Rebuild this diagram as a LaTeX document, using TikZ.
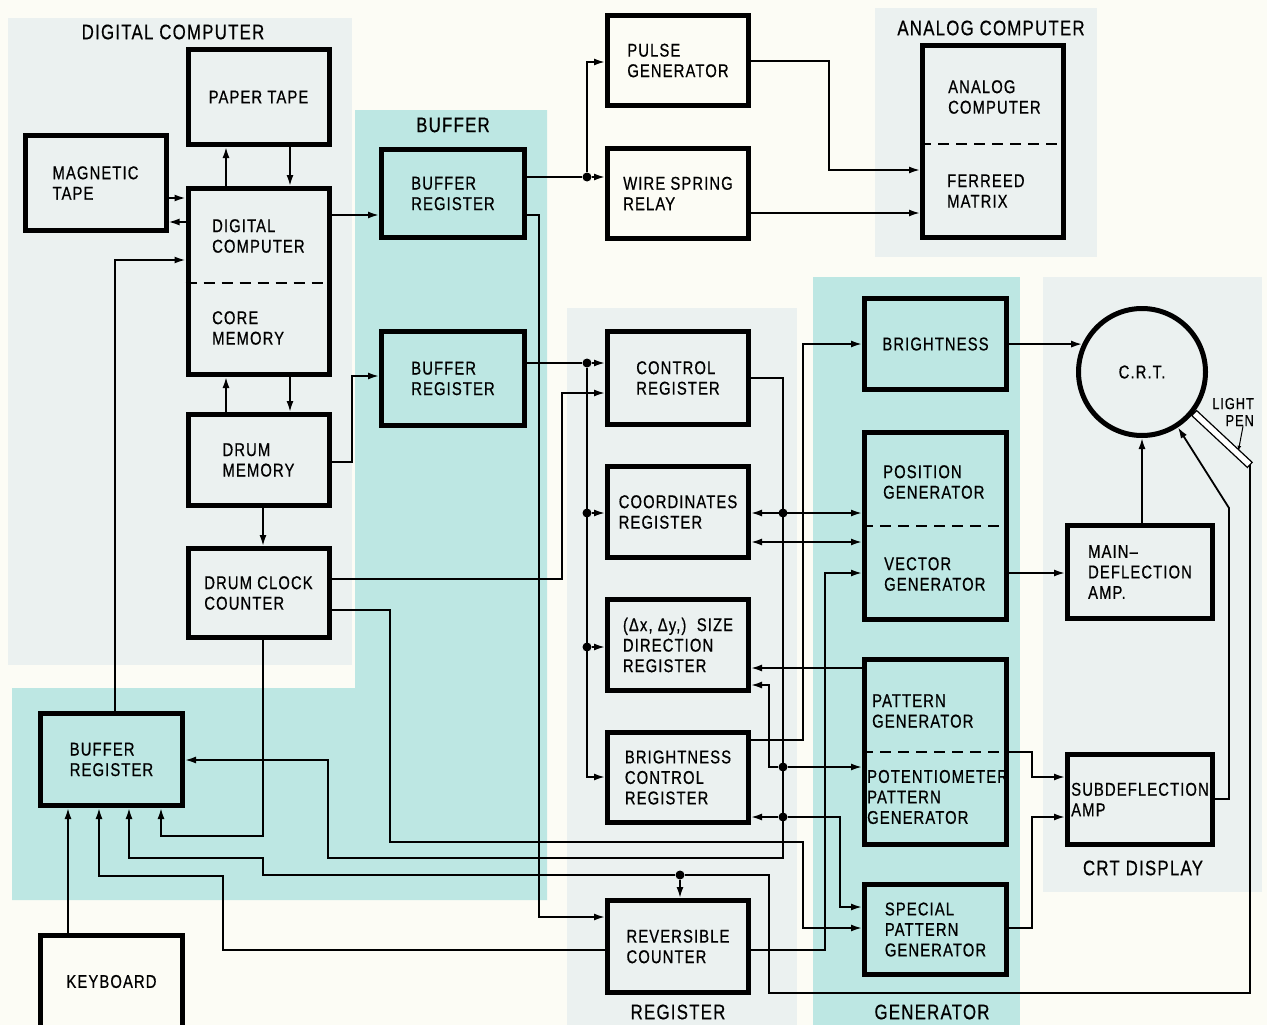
\documentclass[tikz,border=0pt]{standalone}
\usepackage{fontspec}
\setmainfont{Liberation Sans}[FakeStretch=0.8,LetterSpace=6,FakeBold=0.6]
\usetikzlibrary{arrows.meta,calc}

\newcommand*{\blkw}{141pt}
\newcommand*{\blkh}{90pt}
\newcommand*{\boxfont}{\fontsize{18.5pt}{20.5pt}\selectfont}
\newcommand*{\lblfont}{\fontsize{21pt}{23pt}\selectfont}
\definecolor{cyanbg}{HTML}{BDE7E3}
\definecolor{greybg}{HTML}{EBF1F0}
\definecolor{paper}{HTML}{FCFCF5}

\begin{document}
\begin{tikzpicture}
[
	x=1pt, y=-1pt,
	blk/.style={draw,line width=5pt,minimum width=\blkw,minimum height=\blkh,inner sep=0pt,align=left,font=\boxfont},
	txt/.style={inner sep=0pt,align=left,anchor=west,font=\boxfont},
	lbl/.style={inner sep=0pt,font=\lblfont},
	wire/.style={line width=1.8pt},
	con/.style={wire,-{Latex[length=11pt,width=7pt]}},
	dcon/.style={wire,{Latex[length=11pt,width=7pt]}-{Latex[length=11pt,width=7pt]}},
	split/.style={line width=1.8pt,dash pattern=on 11pt off 7pt},
	junc/.style={fill,circle,inner sep=0pt,minimum size=9pt}
]

	% regions
	\useasboundingbox[fill=paper] (0,0) rectangle (1267,1025);
	\fill[greybg] (8,18) rectangle (352,665);
	\fill[cyanbg] (355,110) -- (547,110) -- (547,900) -- (12,900) -- (12,688) -- (355,688) -- cycle;
	\fill[greybg] (875,8) rectangle (1097,257);
	\fill[greybg] (567,308) rectangle (797,1025);
	\fill[cyanbg] (813,277) rectangle (1020,1025);
	\fill[greybg] (1043,277) rectangle (1262,892);

	% region labels
	\node[lbl] (tdig) at (173,32) {DIGITAL COMPUTER};
	\node[lbl] (tbuf) at (453,125) {BUFFER};
	\node[lbl] (tana) at (991,28) {ANALOG COMPUTER};
	\node[lbl] (treg) at (678,1012) {REGISTER};
	\node[lbl] (tgen) at (932,1012) {GENERATOR};
	\node[lbl] (tcrt) at (1143,868) {CRT DISPLAY};

	% digital computer
	\node[blk,fill=greybg,minimum height=95pt] (pt) at (258.5,97) {PAPER TAPE};
	\node[blk,fill=greybg,minimum height=95pt] (mt) at (95.5,183) {MAGNETIC\\TAPE};
	\node[blk,fill=greybg,minimum height=186pt] (dc) at (258.5,281.5) {};
	\draw[split] (dc.west |- 0,283) -- (dc.east |- 0,283);
	\node[txt] (dct) at (212,236) {DIGITAL\\COMPUTER};
	\node[txt] (cmt) at (212,328) {CORE\\MEMORY};
	\node[blk,fill=greybg,minimum height=91pt] (dm) at (258.5,460) {DRUM\\MEMORY};
	\node[blk,fill=greybg,minimum height=89pt] (dcc) at (258.5,593) {DRUM CLOCK\\COUNTER};

	% buffers
	\node[blk,fill=cyanbg,minimum width=143pt,minimum height=88pt] (bra) at (453,193.5) {BUFFER\\REGISTER};
	\node[blk,fill=cyanbg,minimum width=143pt,minimum height=94pt] (brb) at (453,378.5) {BUFFER\\REGISTER};
	\node[blk,fill=cyanbg,minimum width=142pt,minimum height=92pt] (brc) at (111.5,759.5) {BUFFER\\REGISTER};
	\node[blk,fill=paper,minimum width=142pt,minimum height=93pt] (kb) at (111.5,981.5) {KEYBOARD};

	% analog side
	\node[blk,fill=paper] (pg) at (678,60.5) {PULSE\\GENERATOR};
	\node[blk,fill=paper] (wsr) at (678,193.5) {WIRE SPRING\\RELAY};
	\node[blk,fill=greybg,minimum height=192pt] (ac) at (993,141.5) {};
	\draw[split] (ac.west |- 0,144) -- (ac.east |- 0,144);
	\node[txt] (act) at (948,97) {ANALOG\\COMPUTER};
	\node[txt] (fmt) at (947,191) {FERREED\\MATRIX};

	% registers
	\node[blk,fill=greybg,minimum height=93pt] (cr) at (678,378) {CONTROL\\REGISTER};
	\node[blk,fill=greybg,minimum height=91pt] (coord) at (678,512) {COORDINATES\\REGISTER};
	\node[blk,fill=greybg,minimum height=91pt] (size) at (678,645) {(Δx, Δy,)~~SIZE\\DIRECTION\\REGISTER};
	\node[blk,fill=greybg] (bcr) at (678,777.5) {BRIGHTNESS\\CONTROL\\REGISTER};
	\node[blk,fill=greybg,minimum height=92pt] (rc) at (678,946.5) {REVERSIBLE\\COUNTER};

	% generators
	\node[blk,fill=cyanbg,minimum width=142pt,minimum height=91pt] (brt) at (935.5,344) {BRIGHTNESS};
	\node[blk,fill=cyanbg,minimum width=142pt,minimum height=187pt] (pvg) at (935.5,526) {};
	\draw[split] (pvg.west |- 0,526) -- (pvg.east |- 0,526);
	\node[txt] (pgt) at (883,482) {POSITION\\GENERATOR};
	\node[txt] (vgt) at (884,574) {VECTOR\\GENERATOR};
	\node[blk,fill=cyanbg,minimum width=142pt,minimum height=185pt] (ppg) at (935.5,752) {};
	\draw[split] (ppg.west |- 0,752) -- (ppg.east |- 0,752);
	\node[txt] (pat) at (872,711) {PATTERN\\GENERATOR};
	\node[txt] (pot) at (867,797) {POTENTIOMETER\\PATTERN\\GENERATOR};
	\node[blk,fill=cyanbg,minimum width=142pt] (spg) at (935.5,929.5) {SPECIAL\\PATTERN\\GENERATOR};

	% crt display
	\node[blk,fill=greybg,circle,minimum size=127pt] (crt) at (1142,372) {C.R.T.};
	\node[blk,fill=greybg,minimum width=145pt,minimum height=93pt] (mda) at (1140,572) {MAIN\textendash\\DEFLECTION\\AMP.};
	\node[blk,fill=greybg,minimum width=145pt] (sda) at (1140,799.5) {SUBDEFLECTION\\AMP};
	\node[draw,line width=1.2pt,fill=white,minimum width=76pt,minimum height=7pt,inner sep=0pt,rotate=-43] (pen) at (1222,439) {};
	\node[lbl,font=\fontsize{16pt}{17pt}\selectfont,align=right,anchor=east] (lp) at (1254,412) {LIGHT\\PEN};
	\draw[line width=1pt,-{Latex[length=5pt,width=4pt]},shorten >=3pt] (lp.south -| 1243,0) -- ($(pen.east)!0.22!(pen.west)$);

	% junctions
	\node[junc] (ja) at (587,177) {};
	\node[junc] (jb) at (587,363) {};
	\node[junc] (jc) at (587,513) {};
	\node[junc] (jd) at (587,647) {};
	\node[junc] (ka) at (783,513) {};
	\node[junc] (kb2) at (783,767) {};
	\node[junc] (kc) at (783,817) {};
	\node[junc] (kd) at (680,875) {};

	% digital computer links
	\draw[con] (dc.north -| 226,0) -- (pt.south -| 226,0);
	\draw[con] (pt.south -| 290,0) -- (dc.north -| 290,0);
	\draw[con] (mt.east |- 0,198) -- (dc.west |- 0,198);
	\draw[con] (dc.west |- 0,222) -- (mt.east |- 0,222);
	\draw[con] (dc.south -| 290,0) -- (dm.north -| 290,0);
	\draw[con] (dm.north -| 226,0) -- (dc.south -| 226,0);
	\draw[con] (dm.south -| 263,0) -- (dcc.north -| 263,0);
	\draw[con] (dc.east |- 0,215) -- (bra.west |- 0,215);
	\draw[con] (brc.north -| 115,0) |- (dc.west |- 0,260);
	\draw[con] (dm.east |- 0,462) -| (352,376) -- (brb.west |- 0,376);

	% buffer register to analog computer
	\draw[wire] (bra.east |- 0,177) -- (ja);
	\draw[con] (ja) -- (wsr.west |- 0,177);
	\draw[con] (ja) |- (pg.west |- 0,62);
	\draw[con] (pg.east |- 0,61) -| (829,170) -- (ac.west |- 0,170);
	\draw[con] (wsr.east |- 0,213) -- (ac.west |- 0,213);
	\draw[con] (bra.east |- 0,215) -| (539,917) -- (rc.west |- 0,917);

	% buffer register to registers
	\draw[wire] (brb.east |- 0,363) -- (jb);
	\draw[con] (jb) -- (cr.west |- 0,363);
	\draw[con] (jb) |- (bcr.west |- 0,777);
	\draw[con] (jc) -- (coord.west |- 0,513);
	\draw[con] (jd) -- (size.west |- 0,647);

	% drum clock counter
	\draw[con] (dcc.east |- 0,579) -| (562,393) -- (cr.west |- 0,393);
	\draw[con] (dcc.east |- 0,610) -| (390,842) -| (803,928) -- (spg.west |- 0,928);
	\draw[con] (dcc.south -| 263,0) |- (161,836) -- (brc.south -| 161,0);

	% control register bus
	\draw[con] (cr.east |- 0,378) -| (783,858) -| (328,760) -- (brc.east |- 0,760);
	\draw[dcon] (coord.east |- 0,513) -- (pvg.west |- 0,513);
	\draw[dcon] (coord.east |- 0,542) -- (pvg.west |- 0,542);
	\draw[con] (bcr.east |- 0,740) -| (803,344) -- (brt.west |- 0,344);
	\draw[con] (ppg.west |- 0,668) -- (size.east |- 0,668);
	\draw[con] (kb2) -- (ppg.west |- 0,767);
	\draw[con] (kb2) -| (769,685) -- (size.east |- 0,685);
	\draw[con] (kc) -- (bcr.east |- 0,817);
	\draw[con] (kc) -| (840,907) -- (spg.west |- 0,907);

	% reversible counter
	\draw[con] (rc.east |- 0,950) -| (825,573) -- (pvg.west |- 0,573);
	\draw[con] (rc.west |- 0,950) -| (223,876) -| (brc.south -| 99,0);
	\draw[con] (kb.north -| 68,0) -- (brc.south -| 68,0);

	% light pen return
	\draw[wire] (pen.east) -- (pen.east |- 0,993) -| (769,875) -- (kd);
	\draw[con] (kd) -- (rc.north -| kd);
	\draw[con] (kd) -| (263,858) -| (brc.south -| 129,0);

	% crt drive
	\draw[con] (brt.east |- 0,344) -- (crt.155);
	\draw[con] (pvg.east |- 0,573) -- (mda.west |- 0,573);
	\draw[con] (ppg.east |- 0,752) -| (1032,777) -- (sda.west |- 0,777);
	\draw[con] (spg.east |- 0,928) -| (1032,817) -- (sda.west |- 0,817);
	\draw[con] (mda.north -| crt.south) -- (crt.south);
	\draw[con] (sda.east |- 0,799) -| (1229,508) -- (crt.-57);

\end{tikzpicture}
\end{document}
